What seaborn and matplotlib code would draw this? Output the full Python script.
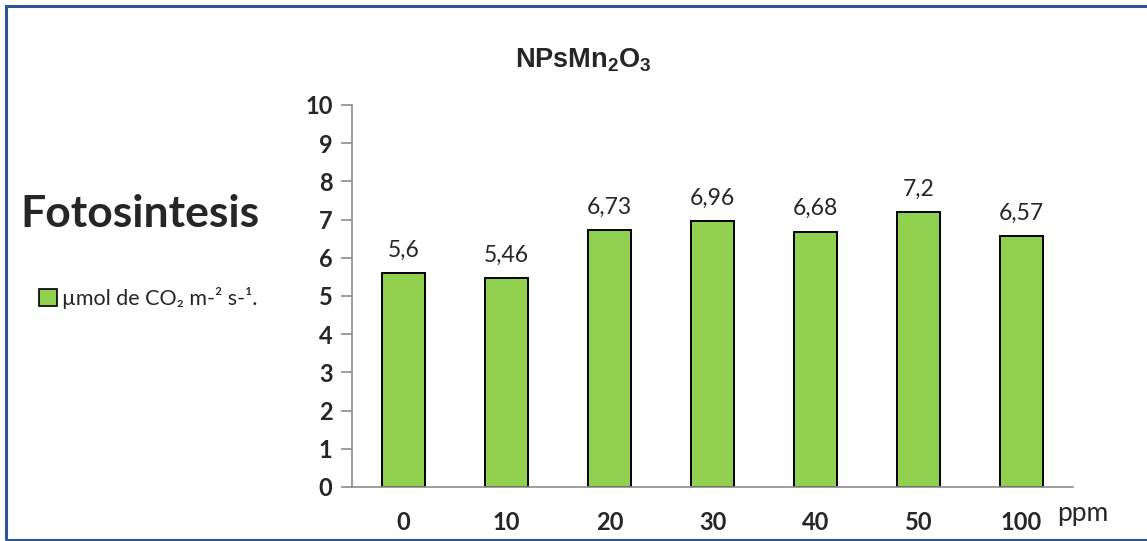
import matplotlib
matplotlib.use("Agg")
import matplotlib.pyplot as plt
from matplotlib.patches import Rectangle, Patch
import seaborn as sns
import pandas as pd

# Data
doses = ["0", "10", "20", "30", "40", "50", "100"]
photosynthesis = [5.6, 5.46, 6.73, 6.96, 6.68, 7.2, 6.57]
value_labels = ["5,6", "5,46", "6,73", "6,96", "6,68", "7,2", "6,57"]
y_ticks = list(range(0, 11))

title_text = r"$\mathbf{NPsMn_2O_3}$"
side_title = "Fotosintesis"
legend_text = "µmol de CO₂ m-² s-¹."
x_unit = "ppm"

sns.set_theme(style="white")
plt.rcParams["font.family"] = ["Lato", "DejaVu Sans"]
plt.rcParams["mathtext.fontset"] = "custom"
plt.rcParams["mathtext.bf"] = "Liberation Sans:bold"
plt.rcParams["mathtext.rm"] = "Liberation Sans"

df = pd.DataFrame({"dose": doses, "value": photosynthesis})

W, H = 1147, 541
fig = plt.figure(figsize=(W / 100, H / 100), dpi=100)
ax = fig.add_axes([352 / W, 1 - 487 / H, (1073 - 352) / W, (487 - 105) / H])

bar_green = "#92D050"
sns.barplot(data=df, x="dose", y="value", order=doses, color=bar_green,
            width=0.41, edgecolor="black", linewidth=1.4, saturation=1, ax=ax)

ax.set_xlim(-0.5, len(doses) - 0.5)
ax.set_ylim(0, 10)
ax.set_yticks(y_ticks)
ax.set_yticklabels([str(t) for t in y_ticks], fontsize=17, fontweight="bold")
ax.set_xticks(range(len(doses)))
ax.set_xticklabels(doses, fontsize=17, fontweight="bold")
ax.set_xticks([i - 0.5 for i in range(len(doses) + 1)], minor=True)
ax.tick_params(axis="x", which="major", length=0, pad=17)
ax.tick_params(axis="x", which="minor", length=8, width=1.2, color="#8c8c8c", direction="out")
ax.tick_params(axis="y", which="major", length=8, width=1.2, color="#8c8c8c",
               direction="out", left=True, pad=6)
ax.set_xlabel("")
ax.set_ylabel("")

for s in ["top", "right"]:
    ax.spines[s].set_visible(False)
for s in ["left", "bottom"]:
    ax.spines[s].set_color("#8c8c8c")
    ax.spines[s].set_linewidth(1.2)

ax.bar_label(ax.containers[0], labels=value_labels, padding=9, fontsize=16.5)

# Titles and annotations
fig.text(583 / W, 1 - 60 / H, title_text, ha="center", va="center", fontsize=19.5)
fig.text(20 / W, 1 - 214 / H, side_title, ha="left", va="center",
         fontsize=32, fontweight="bold")
fig.text(1057 / W, 1 - 513 / H, x_unit, ha="left", va="center", fontsize=19)

handle = Patch(facecolor=bar_green, edgecolor="black", linewidth=1.2)
fig.legend([handle], [legend_text], loc="center left",
           bbox_to_anchor=(30 / W, 1 - 298 / H), frameon=False,
           fontsize=15.5, handlelength=0.85, handleheight=0.85, handletextpad=0.25,
           borderaxespad=0)

# Blue frame (open on the right side)
fig.patches.append(Rectangle((5.5 / W, 1.5 / H), 1200 / W, 533.5 / H,
                             transform=fig.transFigure, fill=False,
                             edgecolor="#2F5496", linewidth=2.2))

fig.savefig("out.png", dpi=100)
